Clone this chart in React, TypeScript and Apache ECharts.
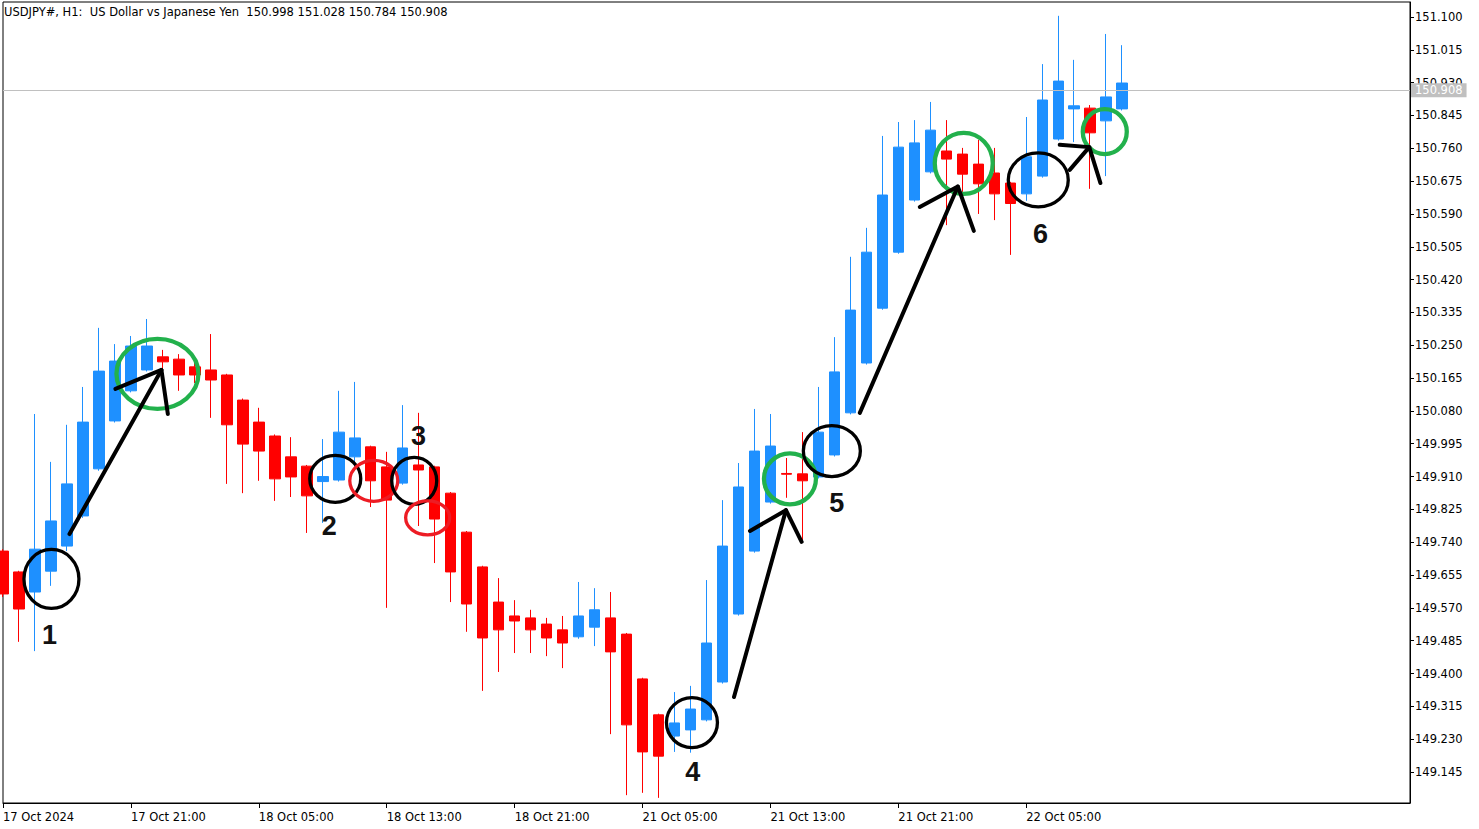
import React, { useEffect, useRef } from "react";
import * as echarts from "echarts";

// ---------- data ----------
const chartTitle = "USDJPY#, H1:  US Dollar vs Japanese Yen  150.998 151.028 150.784 150.908";
const firstDateLabel = "17 Oct 2024";
const lastPrice = 150.908;

const times = [
  "17 Oct 13:00", "17 Oct 14:00", "17 Oct 15:00", "17 Oct 16:00", "17 Oct 17:00", "17 Oct 18:00",
  "17 Oct 19:00", "17 Oct 20:00", "17 Oct 21:00", "17 Oct 22:00", "17 Oct 23:00",
  "18 Oct 00:00", "18 Oct 01:00", "18 Oct 02:00", "18 Oct 03:00", "18 Oct 04:00", "18 Oct 05:00",
  "18 Oct 06:00", "18 Oct 07:00", "18 Oct 08:00", "18 Oct 09:00", "18 Oct 10:00", "18 Oct 11:00",
  "18 Oct 12:00", "18 Oct 13:00", "18 Oct 14:00", "18 Oct 15:00", "18 Oct 16:00", "18 Oct 17:00",
  "18 Oct 18:00", "18 Oct 19:00", "18 Oct 20:00", "18 Oct 21:00", "18 Oct 22:00", "18 Oct 23:00",
  "21 Oct 00:00", "21 Oct 01:00", "21 Oct 02:00", "21 Oct 03:00", "21 Oct 04:00", "21 Oct 05:00",
  "21 Oct 06:00", "21 Oct 07:00", "21 Oct 08:00", "21 Oct 09:00", "21 Oct 10:00", "21 Oct 11:00",
  "21 Oct 12:00", "21 Oct 13:00", "21 Oct 14:00", "21 Oct 15:00", "21 Oct 16:00", "21 Oct 17:00",
  "21 Oct 18:00", "21 Oct 19:00", "21 Oct 20:00", "21 Oct 21:00", "21 Oct 22:00", "21 Oct 23:00",
  "22 Oct 00:00", "22 Oct 01:00", "22 Oct 02:00", "22 Oct 03:00", "22 Oct 04:00", "22 Oct 05:00",
  "22 Oct 06:00", "22 Oct 07:00", "22 Oct 08:00", "22 Oct 09:00", "22 Oct 10:00", "22 Oct 11:00",
];
// empty future slots (chart shift area on the right)
const futureTimes = [
  "22 Oct 12:00", "22 Oct 13:00", "22 Oct 14:00", "22 Oct 15:00", "22 Oct 16:00", "22 Oct 17:00",
  "22 Oct 18:00", "22 Oct 19:00", "22 Oct 20:00", "22 Oct 21:00", "22 Oct 22:00", "22 Oct 23:00",
  "23 Oct 00:00", "23 Oct 01:00", "23 Oct 02:00", "23 Oct 03:00", "23 Oct 04:00", "23 Oct 05:00",
];

const opens = [
  149.717, 149.663, 149.611, 149.665, 149.730, 149.808, 149.930, 150.054, 150.132, 150.186, 150.220,
  150.214, 150.194, 150.186, 150.173, 150.108, 150.051, 150.015, 149.961, 149.937, 149.897, 149.901,
  149.961, 149.987, 149.935, 149.893, 149.940, 149.935, 149.867, 149.766, 149.676, 149.585, 149.549,
  149.544, 149.528, 149.513, 149.495, 149.520, 149.544, 149.502, 149.386, 149.293, 149.238, 149.254,
  149.280, 149.378, 149.554, 149.717, 149.844, 149.918, 149.917, 149.909, 149.966, 150.075, 150.204,
  150.346, 150.491, 150.626, 150.699, 150.753, 150.745, 150.719, 150.696, 150.670, 150.642, 150.688,
  150.784, 150.862, 150.864, 150.831, 150.862,
];
const highs = [
  149.722, 149.666, 150.072, 149.948, 150.044, 150.142, 150.295, 150.253, 150.274, 150.318, 150.238,
  150.227, 150.204, 150.279, 150.176, 150.112, 150.088, 150.019, 150.012, 149.940, 150.007, 150.132,
  150.155, 149.990, 149.974, 150.095, 150.075, 149.938, 149.870, 149.769, 149.679, 149.647, 149.590,
  149.565, 149.544, 149.549, 149.637, 149.621, 149.611, 149.505, 149.389, 149.296, 149.352, 149.368,
  149.642, 149.849, 149.945, 150.085, 150.072, 149.958, 150.025, 150.142, 150.271, 150.479, 150.554,
  150.792, 150.828, 150.833, 150.880, 150.833, 150.761, 150.782, 150.761, 150.673, 150.841, 150.978,
  151.103, 150.989, 150.872, 151.056, 151.027,
];
const lows = [
  149.598, 149.482, 149.458, 149.627, 149.717, 149.803, 149.925, 150.050, 150.128, 150.182, 150.181,
  150.132, 150.152, 150.062, 149.891, 149.867, 149.899, 149.847, 149.857, 149.764, 149.790, 149.897,
  149.930, 149.831, 149.570, 149.889, 149.782, 149.686, 149.585, 149.508, 149.355, 149.404, 149.453,
  149.453, 149.445, 149.414, 149.490, 149.471, 149.243, 149.085, 149.091, 149.078, 149.197, 149.195,
  149.276, 149.374, 149.550, 149.713, 149.840, 149.855, 149.741, 149.905, 149.962, 150.071, 150.200,
  150.342, 150.487, 150.622, 150.695, 150.561, 150.636, 150.590, 150.574, 150.484, 150.624, 150.684,
  150.780, 150.776, 150.655, 150.688, 150.858,
];
const closes = [
  149.606, 149.567, 149.722, 149.795, 149.891, 150.051, 150.183, 150.209, 150.248, 150.248, 150.207,
  150.173, 150.173, 150.160, 150.044, 149.994, 149.976, 149.904, 149.909, 149.860, 149.910, 150.025,
  150.010, 149.899, 149.849, 149.984, 149.927, 149.800, 149.663, 149.580, 149.492, 149.513, 149.536,
  149.513, 149.492, 149.479, 149.549, 149.565, 149.456, 149.267, 149.197, 149.186, 149.272, 149.308,
  149.479, 149.730, 149.883, 149.976, 149.989, 149.916, 149.899, 150.025, 150.181, 150.341, 150.491,
  150.639, 150.763, 150.774, 150.807, 150.732, 150.693, 150.668, 150.642, 150.617, 150.738, 150.885,
  150.934, 150.870, 150.800, 150.893, 150.929,
];

const priceTicks = [
  151.100, 151.015, 150.930, 150.845, 150.760, 150.675, 150.590, 150.505, 150.420, 150.335, 150.250,
  150.165, 150.080, 149.995, 149.910, 149.825, 149.740, 149.655, 149.570, 149.485, 149.400, 149.315,
  149.230, 149.145,
];
const yMin = 149.0647;
const yMax = 151.1388;

// ---------- annotations (anchored in data space: [bar index, price]) ----------
const BLACK = "#000000";
const GREEN = "#22B14C";
const RED = "#ED1C24";

const rings = [
  { at: [3.03, 149.645], rx: 27.5, ry: 29.5, color: BLACK, w: 3.3 },
  { at: [9.66, 150.176], rx: 41, ry: 35, color: GREEN, w: 4.3 },
  { at: [20.78, 149.904], rx: 25.5, ry: 23.5, color: BLACK, w: 3.3 },
  { at: [23.19, 149.899], rx: 24, ry: 20.5, color: RED, w: 3.3 },
  { at: [25.72, 149.899], rx: 22.5, ry: 23.5, color: BLACK, w: 3.3 },
  { at: [26.56, 149.803], rx: 22, ry: 17, color: RED, w: 3.3 },
  { at: [43.09, 149.273], rx: 25.5, ry: 25, color: BLACK, w: 3.3 },
  { at: [49.22, 149.904], rx: 26, ry: 25.5, color: GREEN, w: 4.3 },
  { at: [51.84, 149.976], rx: 28.5, ry: 25.5, color: BLACK, w: 3.3 },
  { at: [60.09, 150.721], rx: 29, ry: 30.5, color: GREEN, w: 4.3 },
  { at: [64.75, 150.678], rx: 30, ry: 27, color: BLACK, w: 3.3 },
  { at: [68.91, 150.803], rx: 22, ry: 22.5, color: GREEN, w: 4.3 },
];

const arrows = [
  { tail: [4.16, 149.761], tip: [9.91, 150.186], left: [7.03, 150.137], right: [10.31, 150.072] },
  { tail: [45.72, 149.339], tip: [48.97, 149.823], left: [46.72, 149.769], right: [49.95, 149.741] },
  { tail: [53.59, 150.075], tip: [59.72, 150.661], left: [57.34, 150.608], right: [60.72, 150.546] },
  { tail: [66.72, 150.704], tip: [67.94, 150.763], left: [66.09, 150.769], right: [68.64, 150.670] },
];

const numberMarks = [
  { text: "1", at: [2.91, 149.5] },
  { text: "2", at: [20.41, 149.782] },
  { text: "3", at: [25.99, 150.015] },
  { text: "4", at: [43.14, 149.145] },
  { text: "5", at: [52.14, 149.842] },
  { text: "6", at: [64.89, 150.538] },
];

const BULL = "#1E90FF";
const BEAR = "#FF0000";
const FONT = "DejaVu Sans";

export default function App() {
  const ref = useRef<HTMLDivElement>(null);

  useEffect(() => {
    if (!ref.current) return;
    const chart = echarts.init(ref.current, null, { renderer: "svg" });
    const categories = times.concat(futureTimes);
    const lastBar = closes.length - 1;
    const showTick = (i: number) => i % 8 === 0 && i <= lastBar;

    chart.setOption({
      animation: false,
      backgroundColor: "#ffffff",
      title: {
        text: chartTitle,
        left: 4,
        top: 6,
        padding: 0,
        textStyle: { fontFamily: FONT, fontSize: 11.5, fontWeight: "normal", color: "#000" },
      },
      grid: {
        left: 2,
        top: 2,
        width: 1408,
        height: 801,
        show: true,
        borderColor: "#000",
        borderWidth: 1,
        backgroundColor: "#fff",
      },
      xAxis: {
        type: "category",
        data: categories,
        boundaryGap: false,
        axisLine: { show: true, lineStyle: { color: "#000", width: 1 } },
        axisTick: { show: true, interval: showTick, length: 5, lineStyle: { color: "#000" } },
        axisLabel: {
          interval: showTick,
          formatter: (v: string, i: number) => (i === 0 ? firstDateLabel : v),
          align: "left",
          margin: 8,
          color: "#000",
          fontFamily: FONT,
          fontSize: 11.5,
        },
        splitLine: { show: false },
      },
      yAxis: {
        type: "value",
        position: "right",
        min: yMin,
        max: yMax,
        scale: true,
        axisLine: { show: true, lineStyle: { color: "#000", width: 1 } },
        axisTick: { show: true, length: 4, customValues: priceTicks, lineStyle: { color: "#000" } },
        axisLabel: {
          customValues: priceTicks,
          formatter: (v: number) => v.toFixed(3),
          margin: 5,
          color: "#000",
          fontFamily: FONT,
          fontSize: 11.5,
        },
        splitLine: { show: false },
      },
      series: [
        {
          type: "candlestick",
          data: opens.map((o, i) => [o, closes[i], lows[i], highs[i]]),
          barWidth: 11,
          clip: true,
          silent: true,
          itemStyle: {
            color: BULL,
            color0: BEAR,
            borderColor: BULL,
            borderColor0: BEAR,
            borderWidth: 1,
          },
          markLine: {
            silent: true,
            symbol: ["none", "none"],
            lineStyle: { color: "#C0C0C0", width: 1, type: "solid" },
            label: {
              show: true,
              position: "end",
              formatter: () => lastPrice.toFixed(3),
              backgroundColor: "#C0C0C0",
              color: "#fff",
              padding: [1, 4, 1, 4],
              distance: 1,
              fontFamily: FONT,
              fontSize: 11.5,
            },
            data: [{ yAxis: lastPrice }],
          },
        },
      ],
    });

    const px = (at: number[]) => {
      const a = chart.convertToPixel({ gridIndex: 0 }, [0, at[1]]) as number[];
      const b = chart.convertToPixel({ gridIndex: 0 }, [10, at[1]]) as number[];
      return [a[0] + ((b[0] - a[0]) * at[0]) / 10, a[1]];
    };

    const elements: any[] = [];
    rings.forEach((r) => {
      const c = px(r.at);
      elements.push({
        type: "ellipse",
        silent: true,
        z: 100,
        shape: { cx: c[0], cy: c[1], rx: r.rx, ry: r.ry },
        style: { fill: "none", stroke: r.color, lineWidth: r.w },
      });
    });
    arrows.forEach((a) => {
      const t = px(a.tail);
      const p = px(a.tip);
      const l = px(a.left);
      const r = px(a.right);
      elements.push({
        type: "polyline",
        silent: true,
        z: 101,
        shape: { points: [t, p] },
        style: { stroke: "#000", lineWidth: 4, lineCap: "round", fill: "none" },
      });
      elements.push({
        type: "polyline",
        silent: true,
        z: 101,
        shape: { points: [l, p, r] },
        style: { stroke: "#000", lineWidth: 4, lineCap: "round", lineJoin: "round", fill: "none" },
      });
    });
    numberMarks.forEach((m) => {
      const c = px(m.at);
      elements.push({
        type: "text",
        silent: true,
        z: 102,
        x: c[0],
        y: c[1],
        style: {
          text: m.text,
          fill: "#111",
          fontFamily: "Liberation Sans",
          fontWeight: "bold",
          fontSize: 27,
          align: "center",
          verticalAlign: "middle",
        },
      });
    });
    chart.setOption({ graphic: elements });

    return () => chart.dispose();
  }, []);

  return (
    <div
      ref={ref}
      style={{ position: "absolute", left: 0, top: 0, width: 1479, height: 829, background: "#fff" }}
    />
  );
}
